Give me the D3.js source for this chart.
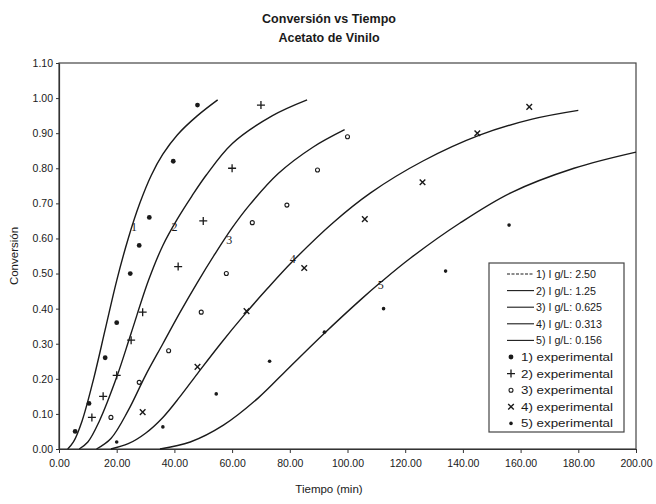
<!DOCTYPE html>
<html>
<head>
<meta charset="utf-8">
<script src="https://cdn.jsdelivr.net/npm/d3@7/dist/d3.min.js"></script>
<style>
  html, body { margin: 0; padding: 0; background: #fff; }
  svg { display: block; font-family: "Liberation Sans", Arial, sans-serif; }
</style>
</head>
<body>
<svg id="chart" width="656" height="504"></svg>
<script>
// Model curves: time (min) and conversion for each initiator concentration
const model1T = [3, 5, 8, 12, 16, 20, 24, 28, 32, 36, 41, 48, 55];
const model1C = [0, 0.02, 0.08, 0.20, 0.34, 0.48, 0.60, 0.70, 0.78, 0.84, 0.895, 0.95, 0.995];
const model2T = [7, 10, 14, 20, 25, 31, 36, 41, 46, 51, 60, 74, 86];
const model2C = [0, 0.02, 0.08, 0.205, 0.33, 0.48, 0.58, 0.655, 0.72, 0.78, 0.87, 0.95, 0.995];
const model3T = [13, 18, 24, 30, 36, 42, 48, 54, 60, 66, 76, 88, 99];
const model3C = [0, 0.03, 0.11, 0.21, 0.30, 0.39, 0.475, 0.555, 0.63, 0.695, 0.785, 0.86, 0.91];
const model4T = [18, 24, 30, 36, 42, 48, 56, 64, 72, 81, 95, 108, 126, 146, 164, 180];
const model4C = [0, 0.015, 0.045, 0.09, 0.15, 0.215, 0.30, 0.38, 0.455, 0.535, 0.645, 0.73, 0.82, 0.895, 0.94, 0.965];
const model5T = [35, 45.5, 57, 69, 80, 92, 104.5, 111.5, 122, 139, 156.6, 178.5, 200];
const model5C = [0, 0.02, 0.068, 0.145, 0.234, 0.33, 0.425, 0.475, 0.545, 0.644, 0.73, 0.80, 0.846];

// Experimental measurements
const exp1T = [5.6, 10.4, 16, 20, 24.7, 27.8, 31.3, 39.6, 48];
const exp1C = [0.05, 0.13, 0.26, 0.36, 0.50, 0.58, 0.66, 0.82, 0.98];
const exp2T = [11.4, 15.3, 20, 25, 29, 41.3, 50, 60, 70];
const exp2C = [0.09, 0.15, 0.21, 0.31, 0.39, 0.52, 0.65, 0.80, 0.98];
const exp3T = [18, 27.8, 38, 49.3, 58, 67, 79, 89.6, 100];
const exp3C = [0.09, 0.19, 0.28, 0.39, 0.50, 0.645, 0.695, 0.795, 0.89];
const exp4T = [29, 48, 65, 85, 106, 126, 145, 163];
const exp4C = [0.105, 0.234, 0.393, 0.516, 0.655, 0.76, 0.90, 0.975];
const exp5T = [20, 36, 54.5, 73, 92, 112.5, 134, 156];
const exp5C = [0.02, 0.063, 0.157, 0.25, 0.333, 0.40, 0.507, 0.638];

// Inline curve labels (number, time, conversion where the label sits)
const curveLabelText = ["1", "2", "3", "4", "5"];
const curveLabelT = [26, 40, 59, 81, 111.5];
const curveLabelC = [0.62, 0.62, 0.585, 0.53, 0.455];

const legendLineLabels = ["1) I g/L: 2.50", "2) I g/L: 1.25", "3) I g/L: 0.625", "4) I g/L: 0.313", "5) I g/L: 0.156"];
const legendExpLabels = ["1) experimental", "2) experimental", "3) experimental", "4) experimental", "5) experimental"];

const xTicks = [0, 20, 40, 60, 80, 100, 120, 140, 160, 180, 200];
const yTicks = [0, 0.1, 0.2, 0.3, 0.4, 0.5, 0.6, 0.7, 0.8, 0.9, 1.0, 1.1];

const svg = d3.select("#chart");
const ink = "#1a1a1a";

const x = d3.scaleLinear().domain([0, 200]).range([59, 636]);
const y = d3.scaleLinear().domain([0, 1.1]).range([449, 63]);

// Titles
svg.append("text").attr("x", 329).attr("y", 23).attr("text-anchor", "middle")
  .attr("font-size", 12.5).attr("font-weight", "bold").attr("fill", ink).text("Conversión vs Tiempo");
svg.append("text").attr("x", 329).attr("y", 42).attr("text-anchor", "middle")
  .attr("font-size", 12.5).attr("font-weight", "bold").attr("fill", ink).text("Acetato de Vinilo");

// Plot frame
svg.append("rect").attr("x", x(0)).attr("y", y(1.1))
  .attr("width", x(200) - x(0)).attr("height", y(0) - y(1.1))
  .attr("fill", "none").attr("stroke", "#444").attr("stroke-width", 1.2);

// Axes
const xAxis = svg.append("g").attr("transform", `translate(0,${y(0)})`)
  .call(d3.axisBottom(x).tickValues(xTicks).tickSize(4).tickSizeOuter(0).tickFormat(d3.format(".2f")));
const yAxis = svg.append("g").attr("transform", `translate(${x(0)},0)`)
  .call(d3.axisLeft(y).tickValues(yTicks).tickSize(3).tickSizeOuter(0).tickFormat(d3.format(".2f")));
[xAxis, yAxis].forEach(g => {
  g.select(".domain").attr("stroke", "#333").attr("stroke-width", 1.2);
  g.selectAll(".tick line").attr("stroke", "#333");
  g.selectAll(".tick text").attr("fill", ink).attr("font-size", 10.5)
    .attr("font-family", "Liberation Sans, Arial, sans-serif");
});
xAxis.selectAll(".tick text").attr("dy", "1.0em");
yAxis.selectAll(".tick text").attr("x", -6);

// Axis titles
svg.append("text").attr("x", 329).attr("y", 493).attr("text-anchor", "middle")
  .attr("font-size", 11.5).attr("fill", ink).text("Tiempo (min)");
svg.append("text").attr("transform", "translate(18,256) rotate(-90)").attr("text-anchor", "middle")
  .attr("font-size", 11.5).attr("fill", ink).text("Conversión");

// Model curves, smoothed through the tabulated points
const models = [
  [model1T, model1C], [model2T, model2C], [model3T, model3C], [model4T, model4C], [model5T, model5C]
];
const line = d3.line().x(d => x(d[0])).y(d => y(d[1])).curve(d3.curveCatmullRom.alpha(0.5));
models.forEach(([ts, cs]) => {
  svg.append("path").datum(ts.map((t, i) => [t, cs[i]]))
    .attr("d", line).attr("fill", "none").attr("stroke", ink).attr("stroke-width", 1.4);
});

// Curve number labels
curveLabelText.forEach((s, i) => {
  svg.append("text").attr("x", x(curveLabelT[i])).attr("y", y(curveLabelC[i]))
    .attr("font-family", "Liberation Serif, serif").attr("font-size", 12)
    .attr("fill", ink).attr("text-anchor", "middle").text(s);
});

// Marker drawers
function drawMarker(g, kind, cx, cy) {
  if (kind === 1) {
    g.append("circle").attr("cx", cx).attr("cy", cy).attr("r", 2.4).attr("fill", ink);
  } else if (kind === 2) {
    g.append("path").attr("d", `M${cx - 4},${cy}H${cx + 4}M${cx},${cy - 4}V${cy + 4}`)
      .attr("stroke", ink).attr("stroke-width", 1.3).attr("fill", "none");
  } else if (kind === 3) {
    g.append("circle").attr("cx", cx).attr("cy", cy).attr("r", 2).attr("fill", "none")
      .attr("stroke", ink).attr("stroke-width", 1.1);
  } else if (kind === 4) {
    g.append("path").attr("d", `M${cx - 2.8},${cy - 2.8}L${cx + 2.8},${cy + 2.8}M${cx - 2.8},${cy + 2.8}L${cx + 2.8},${cy - 2.8}`)
      .attr("stroke", ink).attr("stroke-width", 1.4).attr("fill", "none");
  } else {
    g.append("circle").attr("cx", cx).attr("cy", cy).attr("r", 1.8).attr("fill", ink);
  }
}

const experiments = [
  [exp1T, exp1C], [exp2T, exp2C], [exp3T, exp3C], [exp4T, exp4C], [exp5T, exp5C]
];
const pts = svg.append("g");
experiments.forEach(([ts, cs], k) => {
  ts.forEach((t, i) => drawMarker(pts, k + 1, x(t), y(cs[i])));
});

// Legend
const lg = svg.append("g");
lg.append("rect").attr("x", 489).attr("y", 263).attr("width", 135).attr("height", 169)
  .attr("fill", "#fff").attr("stroke", "#444").attr("stroke-width", 1.2);
const rowY = i => 274 + i * 16.6;
legendLineLabels.forEach((s, i) => {
  lg.append("line").attr("x1", 507).attr("x2", 534).attr("y1", rowY(i)).attr("y2", rowY(i))
    .attr("stroke", ink).attr("stroke-width", 1.1)
    .attr("stroke-dasharray", i === 0 ? "3,1.5" : null);
  lg.append("text").attr("x", 536).attr("y", rowY(i) + 4).attr("font-size", 11)
    .attr("fill", ink).attr("textLength", i < 2 ? 60 : 66).attr("lengthAdjust", "spacingAndGlyphs").text(s);
});
legendExpLabels.forEach((s, j) => {
  const i = j + 5;
  drawMarker(lg, j + 1, 511, rowY(i));
  lg.append("text").attr("x", 521).attr("y", rowY(i) + 4).attr("font-size", 11)
    .attr("fill", ink).attr("textLength", 92).attr("lengthAdjust", "spacingAndGlyphs").text(s);
});
</script>
</body>
</html>
